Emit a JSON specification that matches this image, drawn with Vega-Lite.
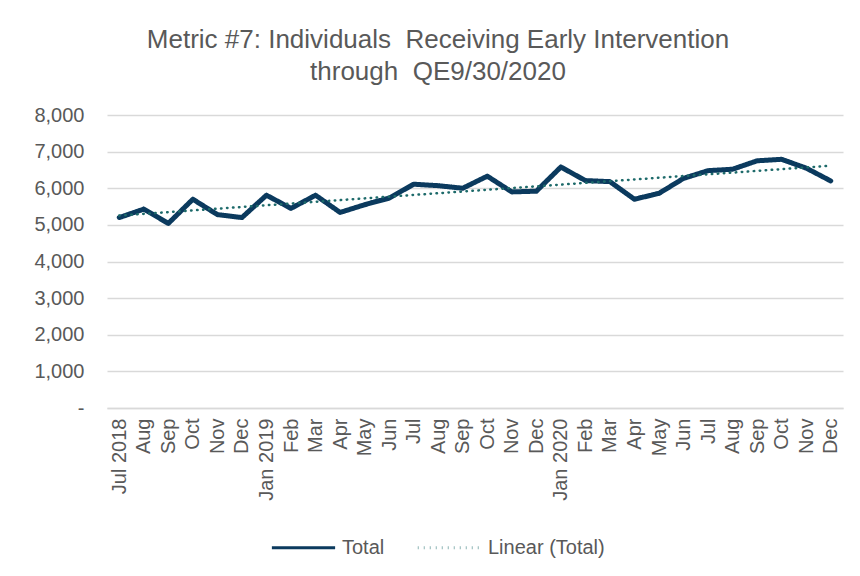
{
  "$schema": "https://vega.github.io/schema/vega-lite/v6.json",
  "width": 736,
  "height": 293,
  "autosize": "none",
  "padding": {"left": 107, "top": 115, "right": 17, "bottom": 168},
  "background": "white",
  "config": {
    "font": "Liberation Sans",
    "view": {"stroke": null}
  },
  "title": {
    "text": ["Metric #7: Individuals\u00a0 Receiving Early Intervention", "through\u00a0 QE9/30/2020"],
    "font": "Liberation Sans",
    "fontSize": 26,
    "fontWeight": "normal",
    "color": "#595959",
    "anchor": "middle",
    "dx": -37,
    "offset": 20,
    "lineHeight": 32
  },
  "data": {
    "values": [
      {"month": "2018-07", "series": "Total", "value": 5200},
      {"month": "2018-08", "series": "Total", "value": 5430},
      {"month": "2018-09", "series": "Total", "value": 5040},
      {"month": "2018-10", "series": "Total", "value": 5700},
      {"month": "2018-11", "series": "Total", "value": 5280},
      {"month": "2018-12", "series": "Total", "value": 5200},
      {"month": "2019-01", "series": "Total", "value": 5810},
      {"month": "2019-02", "series": "Total", "value": 5450},
      {"month": "2019-03", "series": "Total", "value": 5810},
      {"month": "2019-04", "series": "Total", "value": 5340},
      {"month": "2019-05", "series": "Total", "value": 5550},
      {"month": "2019-06", "series": "Total", "value": 5730},
      {"month": "2019-07", "series": "Total", "value": 6110},
      {"month": "2019-08", "series": "Total", "value": 6070},
      {"month": "2019-09", "series": "Total", "value": 6000},
      {"month": "2019-10", "series": "Total", "value": 6330},
      {"month": "2019-11", "series": "Total", "value": 5900},
      {"month": "2019-12", "series": "Total", "value": 5920},
      {"month": "2020-01", "series": "Total", "value": 6580},
      {"month": "2020-02", "series": "Total", "value": 6210},
      {"month": "2020-03", "series": "Total", "value": 6180},
      {"month": "2020-04", "series": "Total", "value": 5700},
      {"month": "2020-05", "series": "Total", "value": 5860},
      {"month": "2020-06", "series": "Total", "value": 6270},
      {"month": "2020-07", "series": "Total", "value": 6480},
      {"month": "2020-08", "series": "Total", "value": 6520},
      {"month": "2020-09", "series": "Total", "value": 6750},
      {"month": "2020-10", "series": "Total", "value": 6790},
      {"month": "2020-11", "series": "Total", "value": 6550},
      {"month": "2020-12", "series": "Total", "value": 6200},
      {"month": "2018-07", "series": "Linear (Total)", "value": 5254},
      {"month": "2020-12", "series": "Linear (Total)", "value": 6615}
    ]
  },
  "encoding": {
    "x": {
      "field": "month",
      "type": "ordinal",
      "sort": null,
      "scale": {"type": "point", "padding": 0.5},
      "axis": {
        "title": null,
        "labelAngle": 270,
        "labelFontSize": 20,
        "labelColor": "#595959",
        "labelPadding": 10,
        "labelExpr": "(['Jan','Feb','Mar','Apr','May','Jun','Jul','Aug','Sep','Oct','Nov','Dec'])[toNumber(slice(datum.value,5))-1] + ((slice(datum.value,5)=='01' || datum.value=='2018-07') ? ' ' + slice(datum.value,0,4) : '')",
        "domainColor": "#d9d9d9",
        "domainWidth": 1.5,
        "ticks": false,
        "grid": false
      }
    },
    "y": {
      "field": "value",
      "type": "quantitative",
      "scale": {"domain": [0, 8000]},
      "axis": {
        "title": null,
        "values": [0, 1000, 2000, 3000, 4000, 5000, 6000, 7000, 8000],
        "labelFontSize": 20,
        "labelColor": "#595959",
        "labelPadding": 23,
        "labelExpr": "datum.value == 0 ? '-\u00a0\u00a0\u00a0' : format(datum.value, ',')",
        "domain": false,
        "ticks": false,
        "grid": true,
        "gridColor": "#d9d9d9",
        "gridWidth": 1.5
      }
    },
    "color": {
      "field": "series",
      "type": "nominal",
      "scale": {"domain": ["Total", "Linear (Total)"], "range": ["#0b3a5e", "#1d6a6a"]},
      "legend": {
        "title": null,
        "orient": "none",
        "legendX": 163,
        "legendY": 399,
        "direction": "horizontal",
        "symbolType": "stroke",
        "symbolSize": 4000,
        "symbolStrokeWidth": 3,
        "labelFontSize": 20,
        "labelColor": "#595959",
        "labelOffset": 5,
        "columnPadding": 26
      }
    },
    "strokeDash": {
      "field": "series",
      "type": "nominal",
      "scale": {"domain": ["Total", "Linear (Total)"], "range": [[1, 0], [0.5, 5.5]]},
      "legend": {
        "title": null,
        "orient": "none",
        "legendX": 163,
        "legendY": 399,
        "direction": "horizontal",
        "symbolType": "stroke",
        "symbolSize": 4000,
        "symbolStrokeWidth": 3,
        "labelFontSize": 20,
        "labelColor": "#595959",
        "labelOffset": 5,
        "columnPadding": 26
      }
    },
    "strokeWidth": {
      "condition": {"test": "datum.series == 'Total'", "value": 5},
      "value": 2.5
    }
  },
  "mark": {"type": "line", "strokeCap": "round", "strokeJoin": "round"}
}
